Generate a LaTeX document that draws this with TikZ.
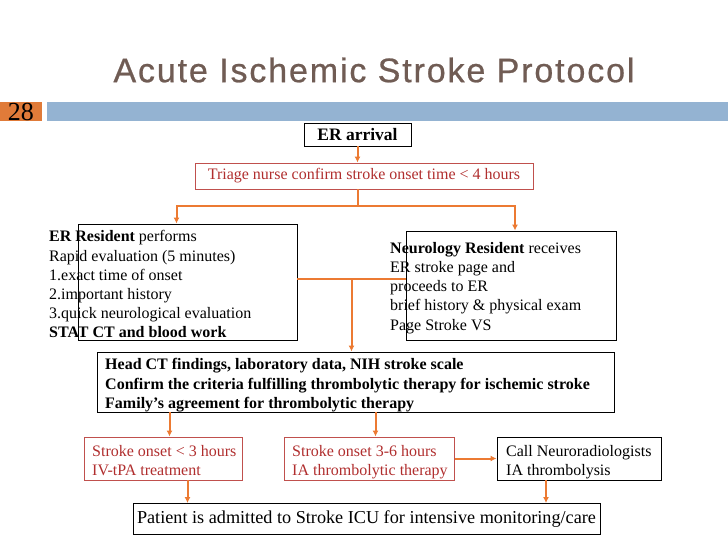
\documentclass[tikz,border=0pt]{standalone}
\usepackage{fontspec}
\setmainfont{Liberation Serif}
\newfontfamily\titlefont[LetterSpace=5.5,FakeBold=0.7]{Liberation Sans}
\usetikzlibrary{arrows.meta,positioning}
\definecolor{slidetitle}{HTML}{705C54}
\definecolor{barblue}{HTML}{94B3D2}
\definecolor{barorange}{HTML}{E07B39}
\definecolor{flowline}{HTML}{EC7A32}
\definecolor{redtext}{HTML}{B02E2E}
\definecolor{redframe}{HTML}{C0504D}

\begin{document}
\begin{tikzpicture}[x=1pt,y=-1pt,
    box/.style={draw, line width=0.9pt, inner sep=0pt},
    redbox/.style={draw=redframe, line width=0.9pt, inner sep=0pt, text=redtext},
    txt/.style={anchor=north west, inner sep=0pt, align=left, font=\fontsize{16}{19.2}\selectfont},
    flow/.style={draw=flowline, line width=2pt},
    arr/.style={flow, -{Latex[length=6pt,width=6pt]}}]

\useasboundingbox (0,0) rectangle (728,546);

% slide heading
\node[text=slidetitle, font=\titlefont\fontsize{34}{40}\selectfont] (title) at (374,70) {Acute Ischemic Stroke Protocol};
\node[fill=barorange, minimum width=42pt, minimum height=19pt, inner sep=0pt, font=\fontsize{26}{26}\selectfont] (slideno) at (21,111.5) {28};
\node[fill=barblue, minimum width=681pt, minimum height=19pt, inner sep=0pt] (bar) at (387.5,111.5) {};

% boxes
\node[box, minimum width=107pt, minimum height=23pt, font=\fontsize{17.5}{20}\selectfont\bfseries] (arrival) at (357.5,134.5) {ER arrival};
\node[redbox, minimum width=338pt, minimum height=26pt, font=\fontsize{16}{19.2}\selectfont] (triage) at (364,176) {Triage nurse confirm stroke onset time < 4 hours};
\node[box, minimum width=219pt, minimum height=116pt] (erbox) at (187.5,282) {};
\node[box, minimum width=210pt, minimum height=109pt] (neurobox) at (511,285.5) {};
\node[box, minimum width=517pt, minimum height=60pt] (assess) at (355.5,382) {};
\node[redbox, minimum width=158pt, minimum height=43pt] (early) at (163.5,458.5) {};
\node[redbox, minimum width=170pt, minimum height=43pt] (late) at (369.5,458.5) {};
\node[box, minimum width=164pt, minimum height=43pt] (radiol) at (579,458.5) {};
\node[box, minimum width=467pt, minimum height=31pt, font=\fontsize{18.2}{21}\selectfont] (admit) at (366.5,519) {Patient is admitted to Stroke ICU for intensive monitoring/care};

% texts
\node[txt] (ertext) at (49,230.5) {\textbf{ER Resident} performs\\Rapid evaluation (5 minutes)\\1.exact time of onset\\2.important history\\3.quick neurological evaluation\\\textbf{STAT CT and blood work}};
\node[txt] (neurotext) at (390,242) {\textbf{Neurology Resident} receives\\ER stroke page and\\proceeds to ER\\brief history \& physical exam\\Page Stroke VS};
\node[txt, font=\fontsize{16}{19.2}\selectfont\bfseries] (assesstext) at (105,358.5) {Head CT findings, laboratory data, NIH stroke scale\\Confirm the criteria fulfilling thrombolytic therapy for ischemic stroke\\Family's agreement for thrombolytic therapy};
\node[txt, text=redtext] (earlytext) at (92,445) {Stroke onset < 3 hours\\IV-tPA treatment};
\node[txt, text=redtext] (latetext) at (292,445) {Stroke onset 3-6 hours\\IA thrombolytic therapy};
\node[txt] (radioltext) at (506,445) {Call Neuroradiologists\\IA thrombolysis};

% connectors
\coordinate (split) at (357.5,205.5);
\coordinate (join) at (351.5,279);
\draw[arr] (arrival.south) -- (triage.north -| arrival.south);
\draw[flow] (triage.south -| split) -- (split);
\draw[arr] (split) -| ([xshift=-11pt]erbox.north);
\draw[arr] (split) -| ([xshift=4pt]neurobox.north);
\draw[flow] (erbox.east |- join) -- (neurobox.west |- join);
\draw[arr] (join) -- (assess.north -| join);
\draw[arr] ([xshift=6pt]early.north |- assess.south) -- ([xshift=6pt]early.north);
\draw[arr] ([xshift=6pt]late.north |- assess.south) -- ([xshift=6pt]late.north);
\draw[arr] (late.east) -- (radiol.west);
\draw[arr] ([xshift=24pt]early.south) -- ([xshift=24pt]early.south |- admit.north);
\draw[arr] ([xshift=-33pt]radiol.south) -- ([xshift=-33pt]radiol.south |- admit.north);
\end{tikzpicture}
\end{document}
